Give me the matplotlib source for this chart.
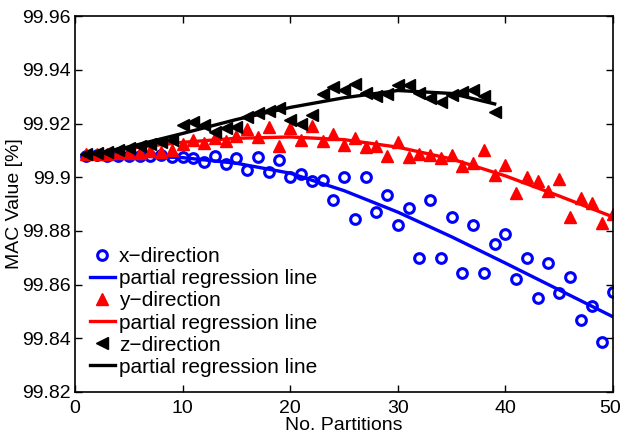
import numpy as np
import matplotlib
matplotlib.use("Agg")
import matplotlib.pyplot as plt
import matplotlib.transforms as mtransforms

# DATA

x_dir = [99.9080, 99.9082, 99.9080, 99.9078, 99.9080, 99.9079, 99.9080, 99.9081, 99.9077, 99.9076,
         99.9072, 99.9055, 99.9079, 99.9048, 99.9072, 99.9027, 99.9074, 99.9020, 99.9066, 99.9002,
         99.9011, 99.8986, 99.8988, 99.8916, 99.9002, 99.8844, 99.9002, 99.8871, 99.8935, 99.8821,
         99.8886, 99.8700, 99.8916, 99.8700, 99.8852, 99.8642, 99.8823, 99.8642, 99.8750, 99.8790,
         99.8621, 99.8700, 99.8549, 99.8679, 99.8567, 99.8630, 99.8468, 99.8521, 99.8387, 99.8574]

y_dir = [99.9085, 99.9085, 99.9088, 99.9090, 99.9090, 99.9092, 99.9098, 99.9095, 99.9102, 99.9125,
         99.9140, 99.9128, 99.9145, 99.9136, 99.9153, 99.9180, 99.9148, 99.9188, 99.9116, 99.9184,
         99.9138, 99.9190, 99.9135, 99.9161, 99.9120, 99.9145, 99.9111, 99.9118, 99.9080, 99.9130,
         99.9076, 99.9086, 99.9082, 99.9070, 99.9082, 99.9041, 99.9052, 99.9101, 99.9008, 99.9045,
         99.8940, 99.8999, 99.8987, 99.8947, 99.8994, 99.8850, 99.8921, 99.8904, 99.8831, 99.8863]

z_dir = [99.9085, 99.9090, 99.9095, 99.9101, 99.9108, 99.9115, 99.9122, 99.9130, 99.9138, 99.9194,
         99.9204, 99.9194, 99.9170, 99.9182, 99.9188, 99.9225, 99.9240, 99.9248, 99.9257, 99.9214,
         99.9197, 99.9232, 99.9310, 99.9335, 99.9324, 99.9347, 99.9315, 99.9304, 99.9310, 99.9345,
         99.9345, 99.9313, 99.9294, 99.9280, 99.9306, 99.9318, 99.9324, 99.9302, 99.9244]

# regression lines
fit_x = [1, 5, 10, 15, 20, 25, 30, 35, 40, 45, 50]
x_fit = [99.9080, 99.9080, 99.9073, 99.9052, 99.9015, 99.8950, 99.8870, 99.8778, 99.8680, 99.8580, 99.8480]
y_fit = [99.9082, 99.9108, 99.9130, 99.9145, 99.9150, 99.9140, 99.9112, 99.9068, 99.9005, 99.8930, 99.8852]
z_fit_x = [1, 5, 10, 15, 20, 25, 30, 35, 39]
z_fit = [99.9082, 99.9113, 99.9163, 99.9215, 99.9260, 99.9296, 99.9323, 99.9312, 99.9273]

ytick_vals = [99.82, 99.84, 99.86, 99.88, 99.90, 99.92, 99.94, 99.96]
ytick_labels = ["99.82", "99.84", "99.86", "99.88", "99.9", "99.92", "99.94", "99.96"]


plt.rcParams["font.family"] = ["Liberation Sans", "DejaVu Sans"]

fig = plt.figure(figsize=(6.22, 4.34), dpi=100)
ax = fig.add_axes([0.1206, 0.0968, 0.865, 0.866])

n_x = np.arange(1, len(x_dir) + 1)
n_z = np.arange(1, len(z_dir) + 1)

ax.plot(n_x, x_dir, "o", color="blue", markerfacecolor="none", markersize=7,
        markeredgewidth=2.2, label="x\u2212direction")
ax.plot(fit_x, x_fit, "-", color="blue", linewidth=2.4, label="partial regression line")
ax.plot(n_x, y_dir, "^", color="red", markersize=8.5, markeredgewidth=1,
        label="y\u2212direction")
ax.plot(fit_x, y_fit, "-", color="red", linewidth=2.4, label="partial regression line")
ax.plot(n_z, z_dir, "<", color="black", markersize=8.5, markeredgewidth=1,
        label="z\u2212direction")
ax.plot(z_fit_x, z_fit, "-", color="black", linewidth=2.4, label="partial regression line")

ax.set_xlim(0, 50)
ax.set_ylim(99.82, 99.96)
ax.set_xticks([0, 10, 20, 30, 40, 50])
ax.set_yticks(ytick_vals)
ax.set_yticklabels(ytick_labels)
ax.tick_params(direction="in", length=5, width=1, top=True, right=True, labelsize=14)
ax.tick_params(axis="x", pad=6)
ax.tick_params(axis="y", pad=3)
for s in ax.spines.values():
    s.set_linewidth(1.2)

# nudge the last x tick label so it stays inside the figure
last = ax.get_xticklabels()[-1]
last.set_transform(last.get_transform() + mtransforms.ScaledTranslation(-3 / 100, 0, fig.dpi_scale_trans))

ax.set_xlabel("No. Partitions", fontsize=14, labelpad=0)
ax.set_ylabel("MAC Value [%]", fontsize=14, labelpad=-1)

ax.legend(loc="lower left", bbox_to_anchor=(0.006, 0.01), frameon=False, fontsize=15,
          handlelength=1.2, handletextpad=0.2, labelspacing=0.15, borderaxespad=0.25,
          borderpad=0.3)

plt.savefig("out.png", dpi=100)
